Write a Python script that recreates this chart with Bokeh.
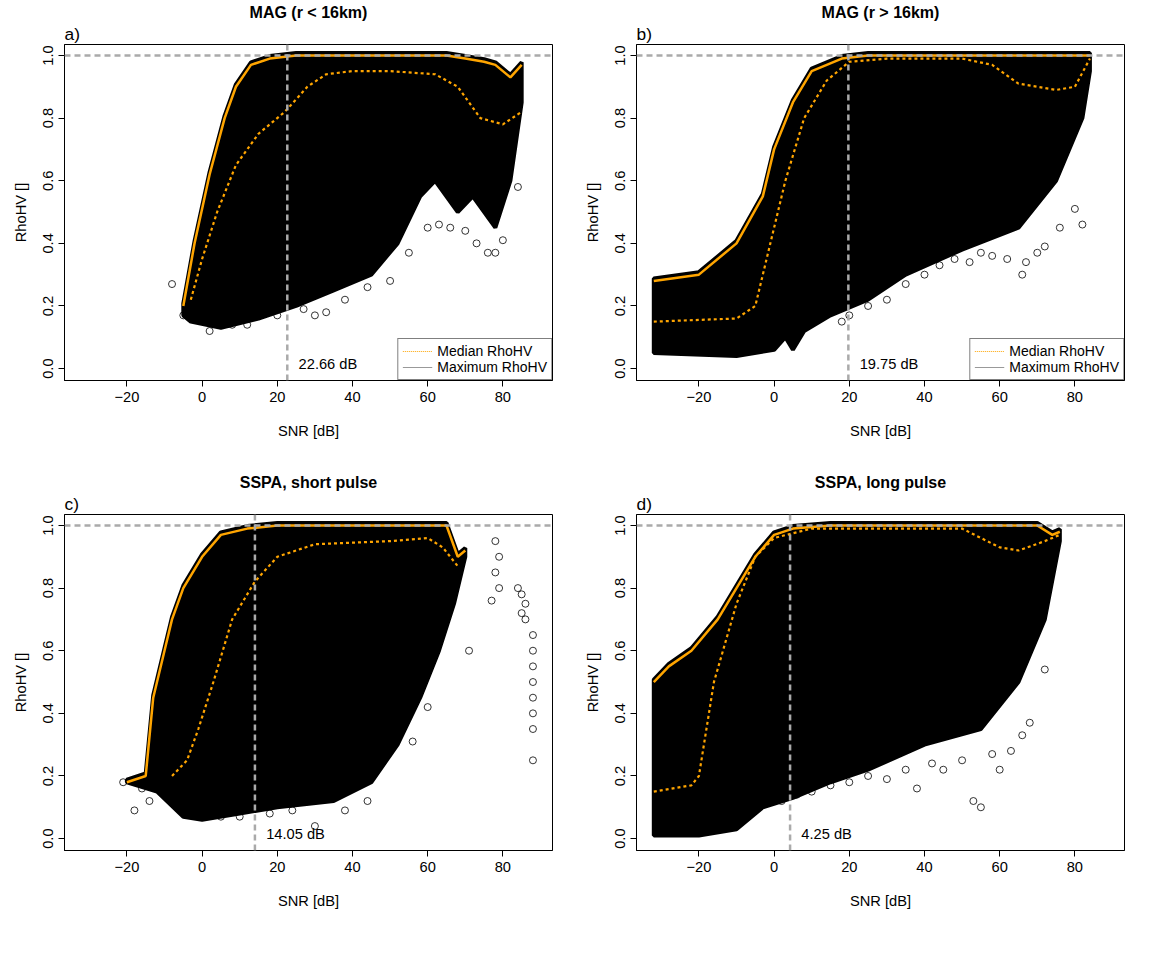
from bokeh.plotting import figure
from bokeh.layouts import gridplot
from bokeh.models import Span, Label, Legend, LegendItem, Title, CustomJSTickFormatter
from bokeh.embed import file_html
from bokeh.resources import INLINE

# ---- data ----
titles = ["MAG (r < 16km)", "MAG (r > 16km)", "SSPA, short pulse", "SSPA, long pulse"]
tags = ["a)", "b)", "c)", "d)"]
thresholds = [22.66, 19.75, 14.05, 4.25]
legend_on = [True, True, False, False]

a_x = [-5, -2, 2, 6, 9, 13, 18, 25, 40, 55, 65, 70, 75, 78, 82, 85]
a_max = [0.20, 0.40, 0.62, 0.80, 0.90, 0.97, 0.99, 1.0, 1.0, 1.0, 1.0, 0.99, 0.98, 0.97, 0.93, 0.97]
a_med_x = [-3, 0, 4, 9, 15, 22, 28, 33, 40, 50, 62, 68, 74, 80, 85]
a_med = [0.22, 0.35, 0.50, 0.65, 0.75, 0.82, 0.90, 0.94, 0.95, 0.95, 0.94, 0.90, 0.80, 0.78, 0.82]
a_low_x = [-5, -3, 5, 15, 25, 35, 45, 52, 58, 62, 68, 72, 78, 82, 85]
a_low = [0.17, 0.15, 0.13, 0.16, 0.20, 0.25, 0.30, 0.40, 0.55, 0.60, 0.50, 0.55, 0.45, 0.60, 0.85]
a_out_x = [-8, -5, 2, 8, 12, 20, 27, 30, 33, 38, 44, 50, 55, 60, 63, 66, 70, 73, 76, 78, 80, 84]
a_out_y = [0.27, 0.17, 0.12, 0.14, 0.14, 0.17, 0.19, 0.17, 0.18, 0.22, 0.26, 0.28, 0.37, 0.45, 0.46, 0.45, 0.44, 0.40, 0.37, 0.37, 0.41, 0.58]

b_x = [-32, -20, -10, -3, 0, 5, 10, 18, 25, 50, 75, 84]
b_max = [0.28, 0.30, 0.40, 0.55, 0.70, 0.85, 0.95, 0.99, 1.0, 1.0, 1.0, 1.0]
b_med_x = [-32, -10, -5, -1, 3, 8, 14, 20, 30, 50, 58, 65, 75, 80, 84]
b_med = [0.15, 0.16, 0.20, 0.40, 0.60, 0.80, 0.92, 0.98, 0.99, 0.99, 0.97, 0.91, 0.89, 0.90, 0.99]
b_low_x = [-32, -10, 0, 3, 5, 8, 15, 25, 35, 50, 65, 75, 82, 84]
b_low = [0.05, 0.04, 0.06, 0.10, 0.06, 0.12, 0.17, 0.22, 0.30, 0.38, 0.45, 0.60, 0.80, 0.95]
b_out_x = [18, 20, 25, 30, 35, 40, 44, 48, 52, 55, 58, 62, 66, 67, 70, 72, 76, 80, 82]
b_out_y = [0.15, 0.17, 0.20, 0.22, 0.27, 0.30, 0.33, 0.35, 0.34, 0.37, 0.36, 0.35, 0.30, 0.34, 0.37, 0.39, 0.45, 0.51, 0.46]

c_x = [-20, -15, -13, -10, -8, -5, 0, 5, 12, 20, 45, 65, 68, 70]
c_max = [0.18, 0.20, 0.45, 0.60, 0.70, 0.80, 0.90, 0.97, 0.99, 1.0, 1.0, 1.0, 0.90, 0.92]
c_med_x = [-8, -4, -1, 3, 8, 14, 20, 30, 50, 60, 64, 68]
c_med = [0.20, 0.25, 0.35, 0.50, 0.70, 0.82, 0.90, 0.94, 0.95, 0.96, 0.93, 0.87]
c_low_x = [-20, -12, -5, 0, 10, 20, 35, 45, 52, 58, 63, 67, 70]
c_low = [0.18, 0.15, 0.07, 0.06, 0.08, 0.10, 0.12, 0.18, 0.30, 0.45, 0.60, 0.75, 0.90]
c_out_x = [-21, -18, -16, -14, 5, 10, 18, 24, 30, 38, 44, 56, 60, 71, 77, 78, 78, 79, 79, 84, 85, 85, 86, 86, 88, 88, 88, 88, 88, 88, 88, 88]
c_out_y = [0.18, 0.09, 0.16, 0.12, 0.07, 0.07, 0.08, 0.09, 0.04, 0.09, 0.12, 0.31, 0.42, 0.60, 0.76, 0.85, 0.95, 0.90, 0.80, 0.80, 0.72, 0.78, 0.70, 0.75, 0.65, 0.60, 0.55, 0.50, 0.45, 0.40, 0.35, 0.25]

d_x = [-32, -28, -22, -15, -10, -5, 0, 5, 15, 70, 74, 76]
d_max = [0.50, 0.55, 0.60, 0.70, 0.80, 0.90, 0.97, 0.99, 1.0, 1.0, 0.97, 0.98]
d_med_x = [-32, -22, -20, -16, -10, -5, 0, 10, 50, 60, 65, 72, 76]
d_med = [0.15, 0.17, 0.20, 0.50, 0.75, 0.90, 0.96, 0.99, 0.99, 0.93, 0.92, 0.95, 0.97]
d_low_x = [-32, -20, -10, -3, 5, 15, 25, 40, 55, 65, 72, 76]
d_low = [0.01, 0.01, 0.03, 0.10, 0.13, 0.18, 0.22, 0.30, 0.35, 0.50, 0.70, 0.95]
d_out_x = [-10, 2, 6, 10, 15, 20, 25, 30, 35, 38, 42, 45, 50, 53, 55, 58, 60, 63, 66, 68, 72]
d_out_y = [0.05, 0.12, 0.14, 0.15, 0.17, 0.18, 0.20, 0.19, 0.22, 0.16, 0.24, 0.22, 0.25, 0.12, 0.10, 0.27, 0.22, 0.28, 0.33, 0.37, 0.54]

panels = [
    (a_x, a_max, a_med_x, a_med, a_low_x, a_low, a_out_x, a_out_y),
    (b_x, b_max, b_med_x, b_med, b_low_x, b_low, b_out_x, b_out_y),
    (c_x, c_max, c_med_x, c_med, c_low_x, c_low, c_out_x, c_out_y),
    (d_x, d_max, d_med_x, d_med, d_low_x, d_low, d_out_x, d_out_y),
]

ORANGE = "#FFA500"
FONT = "Liberation Sans"
figs = []
for i, (mx, my, medx, medy, lx, ly, ox, oy) in enumerate(panels):
    p = figure(width=572, height=470, x_range=(-36.6, 93.2), y_range=(-0.038, 1.035),
               output_backend="svg", toolbar_location=None,
               min_border_left=64, min_border_right=20, min_border_top=44, min_border_bottom=90)
    p.grid.visible = False
    p.outline_line_color = "black"
    p.title = Title(text=titles[i], align="center", text_font=FONT, text_font_size="12pt",
                    text_font_style="bold", text_color="black", standoff=0)
    p.add_layout(Title(text=tags[i], align="left", offset=0, text_font=FONT, text_color="black",
                       text_font_size="13pt", text_font_style="normal", standoff=2), "above")
    p.xaxis.axis_label = "SNR [dB]"
    p.yaxis.axis_label = "RhoHV []"
    p.xaxis.ticker = [-20, 0, 20, 40, 60, 80]
    p.yaxis.ticker = [0.0, 0.2, 0.4, 0.6, 0.8, 1.0]
    p.yaxis.major_label_orientation = "vertical"
    p.yaxis[0].formatter = CustomJSTickFormatter(code="return tick.toFixed(1);")
    for ax in (p.xaxis[0], p.yaxis[0]):
        ax.axis_label_text_font = FONT
        ax.axis_label_text_font_style = "normal"
        ax.axis_label_text_font_size = "11pt"
        ax.axis_label_text_color = "black"
        ax.major_label_text_font = FONT
        ax.major_label_text_font_size = "11pt"
        ax.major_label_text_color = "black"
        ax.minor_tick_line_color = None
        ax.major_tick_out = 6
        ax.major_tick_in = 0
        ax.axis_label_standoff = 18
    p.yaxis[0].axis_label_standoff = 12

    px = list(mx) + list(reversed(lx))
    py = [v + 0.008 for v in my] + list(reversed(ly))
    p.patch(px, py, fill_color="black", line_color="black", line_width=4)
    p.scatter(ox, oy, marker="circle", size=7, fill_color=None, line_color="black", line_width=0.8)

    p.add_layout(Span(location=1.0, dimension="width", line_color="#aaaaaa", line_width=2.5, line_dash="6 4"))
    p.add_layout(Span(location=thresholds[i], dimension="height", line_color="#aaaaaa", line_width=2.5, line_dash="6 4"))

    p.line(mx, my, line_color=ORANGE, line_width=2.5)
    p.line(medx, medy, line_color=ORANGE, line_width=2.2, line_dash="3 3")

    p.add_layout(Label(x=thresholds[i] + 3, y=-0.01, text="%.2f dB" % thresholds[i],
                       text_font=FONT, text_font_size="11pt", text_color="black"))

    if legend_on[i]:
        r1 = p.line([-200, -190], [0.5, 0.5], line_color=ORANGE, line_width=1, line_dash="1 1")
        r2 = p.line([-200, -190], [0.5, 0.5], line_color="#999999", line_width=1)
        lg = Legend(items=[LegendItem(label="Median RhoHV", renderers=[r1]),
                           LegendItem(label="Maximum RhoHV", renderers=[r2])],
                    location="bottom_right", label_text_font=FONT, label_text_font_size="10.5pt",
                    label_text_color="black",
                    border_line_color="black", glyph_width=30, spacing=0, padding=4, margin=0,
                    label_height=14, glyph_height=14)
        p.add_layout(lg)
    figs.append(p)

grid = gridplot([[figs[0], figs[1]], [figs[2], figs[3]]], toolbar_location=None)
open("out.html", "w").write(file_html(grid, INLINE))
